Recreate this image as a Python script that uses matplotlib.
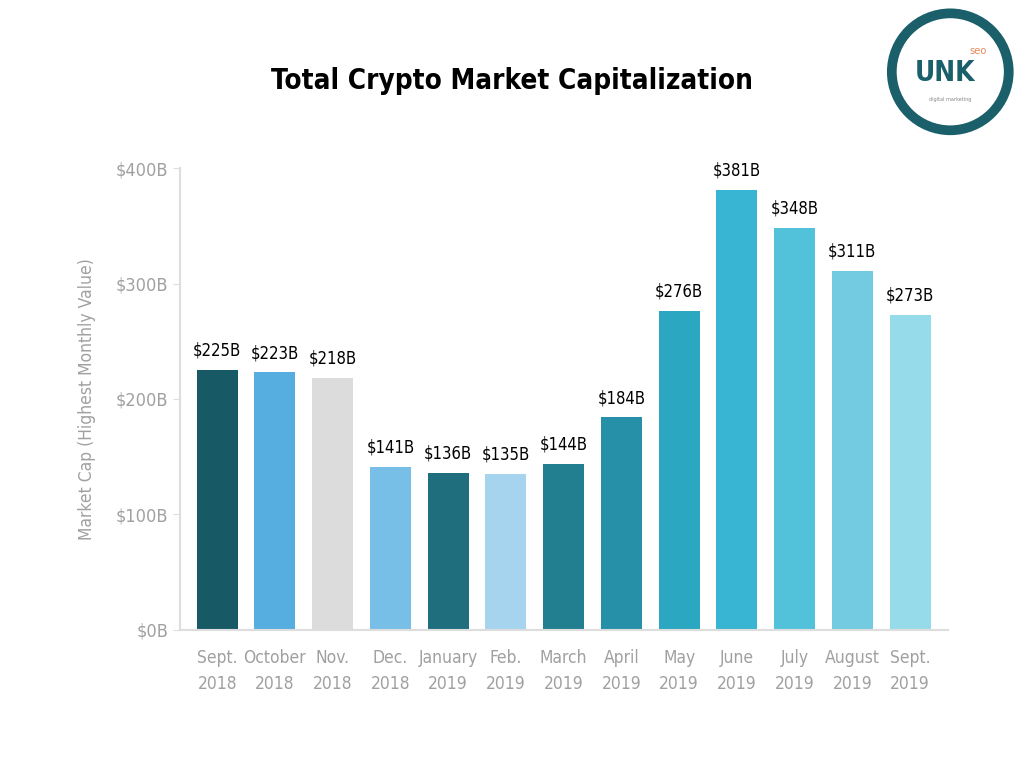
import matplotlib.pyplot as plt
from matplotlib.patches import Circle
from matplotlib import font_manager

# look for a narrow face; the reference uses a condensed sans
cond = [f for f in font_manager.fontManager.ttflist
        if "Narrow" in f.name or "Condensed" in f.name or f.stretch in ("condensed", "semi-condensed")]
narrow = cond[0].name if cond else "DejaVu Sans"
plt.rcParams["font.family"] = [narrow, "DejaVu Sans"]
plt.rcParams["font.stretch"] = "condensed"

months = ["Sept.\n2018", "October\n2018", "Nov.\n2018", "Dec.\n2018", "January\n2019",
          "Feb.\n2019", "March\n2019", "April\n2019", "May\n2019", "June\n2019",
          "July\n2019", "August\n2019", "Sept.\n2019"]
market_cap = [225, 223, 218, 141, 136, 135, 144, 184, 276, 381, 348, 311, 273]
colors = ["#175a66", "#56ade0", "#dcdcdc", "#78bfe8", "#1e6e7e", "#a6d3ee", "#217f90",
          "#2690a8", "#2ba7c1", "#37b5d2", "#52c1da", "#72cbe0", "#96dbe9"]
yticks = [0, 100, 200, 300, 400]

grey = "#a0a0a0"
fig = plt.figure(figsize=(10.24, 7.68), dpi=100)
ax = fig.add_axes([0.176, 0.180, 0.750, 0.601])

x = range(len(months))
bars = ax.bar(x, market_cap, width=0.71, color=colors)
for b, v in zip(bars, market_cap):
    ax.text(b.get_x() + b.get_width() / 2, v + 9, f"${v}B", ha="center", va="bottom",
            fontsize=12, color="black")

ax.set_xlim(-0.64, 12.66)
ax.set_ylim(0, 400)
ax.set_yticks(yticks)
ax.set_yticklabels([f"${t}B" for t in yticks])
ax.set_xticks(list(x))
ax.set_xticklabels(months, linespacing=1.55)
ax.tick_params(axis="y", colors="#dddddd", labelcolor=grey, labelsize=13, length=5)
ax.tick_params(axis="x", length=0, labelcolor=grey, labelsize=12.5, pad=14)
for s in ["top", "right"]:
    ax.spines[s].set_visible(False)
for s in ["left", "bottom"]:
    ax.spines[s].set_color("#dddddd")
    ax.spines[s].set_linewidth(1.5)
ax.set_ylabel("Market Cap (Highest Monthly Value)", color=grey, fontsize=12.5, labelpad=14)

fig.text(0.50, 0.895, "Total Crypto Market Capitalization", ha="center", va="center",
         fontsize=20, fontweight="bold", color="black")

# logo
lax = fig.add_axes([0.863, 0.82, 0.13, 0.173])
lax.set_xlim(-1, 1)
lax.set_ylim(-1, 1)
lax.set_aspect("equal")
lax.axis("off")
lax.add_patch(Circle((0, 0), 0.88, fill=False, lw=7, ec="#1a5f6a"))
lax.text(-0.08, -0.02, "UNK", ha="center", va="center", fontsize=20, fontweight="bold",
         color="#1a5f6a", family="DejaVu Sans")
lax.text(0.42, 0.32, "seo", ha="center", va="center", fontsize=8, color="#e8885a",
         family="DejaVu Sans")
lax.text(0.0, -0.42, "digital marketing", ha="center", va="center", fontsize=4, color="#888888")

fig.savefig("out.png", dpi=100)
